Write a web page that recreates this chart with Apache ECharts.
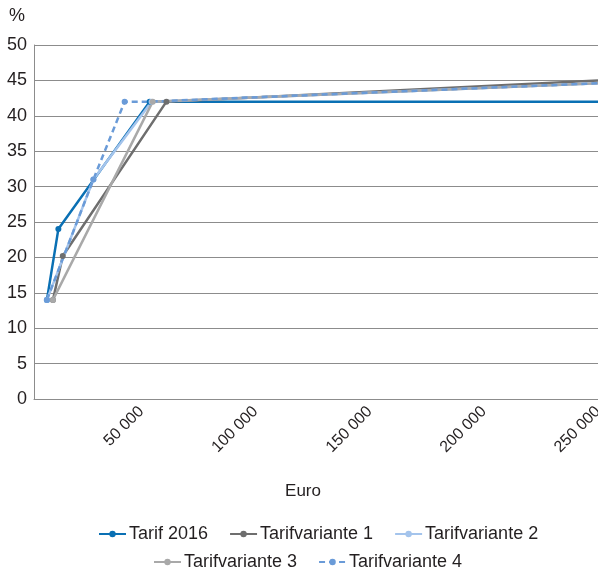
<!DOCTYPE html>
<html>
<head>
<meta charset="utf-8">
<script src="https://cdn.jsdelivr.net/npm/echarts@6/dist/echarts.min.js"></script>
<style>
  html, body { margin: 0; padding: 0; background: #fff; }
  #main { width: 598px; height: 570px; }
</style>
</head>
<body>
<div id="main"></div>
<script>
// Grenzsteuersatz (%) je zu versteuerndem Einkommen (Euro)
var seriesNames = ['Tarif 2016', 'Tarifvariante 1', 'Tarifvariante 2', 'Tarifvariante 3', 'Tarifvariante 4'];
var tarif2016 = [[8652, 14], [13669, 24], [53665, 42], [250000, 42]];
var variante1 = [[11300, 14], [15600, 20.2], [61000, 42], [250000, 45]];
var variante2 = [[8652, 14], [29000, 31], [54500, 42], [250000, 44.6]];
var variante3 = [[11300, 14], [55000, 42], [250000, 44.6]];
var variante4 = [[8652, 14], [29000, 31], [42700, 42], [53665, 42], [250000, 44.6]];
var xTicks = [50000, 100000, 150000, 200000, 250000];

var colors = ['#0a70b4', '#6e6e6e', '#a4c4ec', '#a9a9a9', '#6a9bd8'];
var font = 'Liberation Sans';
var textColor = '#231f20';

function makeSeries(name, data, color, dashed, noMarker) {
    // kein Marker am rechten Rand bzw. an reinen Stützpunkten
    var pts = data.map(function (p, i) {
        if (i === data.length - 1 || (noMarker && noMarker.indexOf(i) >= 0)) {
            return { value: p, symbol: 'none' };
        }
        return p;
    });
    return {
        name: name,
        type: 'line',
        data: pts,
        symbol: 'circle',
        symbolSize: 6,
        lineStyle: { color: color, width: 2.5, type: dashed ? [6, 4] : 'solid' },
        itemStyle: { color: color },
        emphasis: { disabled: true }
    };
}

var legendBase = {
    itemWidth: 27,
    itemHeight: 8,
    itemGap: 21,
    textStyle: { fontSize: 18, color: textColor, fontFamily: font, padding: [0, 0, 0, -2] }
};

var myChart = echarts.init(document.getElementById('main'));
myChart.setOption({
    animation: false,
    textStyle: { fontFamily: font },
    grid: { left: 34, right: 0, top: 45, bottom: 171, outerBoundsMode: 'none' },
    legend: [
        Object.assign({ data: seriesNames.slice(0, 3), left: 93, top: 520 }, legendBase),
        Object.assign({ data: seriesNames.slice(3), left: 148, top: 548 }, legendBase)
    ],
    xAxis: {
        type: 'value',
        min: 3000,
        max: 250000,
        name: 'Euro',
        nameLocation: 'middle',
        nameGap: 84,
        nameTextStyle: { fontSize: 17, color: textColor, padding: [0, 26, 0, 0] },
        axisLine: { show: true, lineStyle: { color: '#8c8c8c', width: 1 } },
        axisTick: { show: false },
        splitLine: { show: false },
        axisLabel: {
            customValues: xTicks,
            rotate: 45,
            margin: 10,
            fontSize: 16,
            color: textColor,
            formatter: function (v) {
                return String(v).replace(/\B(?=(\d{3})+(?!\d))/g, ' ');
            }
        }
    },
    yAxis: {
        type: 'value',
        min: 0,
        max: 50,
        interval: 5,
        name: '%',
        nameGap: 20,
        nameTextStyle: { fontSize: 18, color: textColor, align: 'right', padding: [0, 9, 0, 0] },
        axisLine: { show: true, lineStyle: { color: '#8c8c8c', width: 1 } },
        axisTick: { show: false },
        splitLine: { lineStyle: { color: '#8c8c8c', width: 1 } },
        axisLabel: { fontSize: 18, color: textColor, margin: 7 }
    },
    series: [
        makeSeries(seriesNames[0], tarif2016, colors[0], false),
        makeSeries(seriesNames[1], variante1, colors[1], false),
        makeSeries(seriesNames[2], variante2, colors[2], false),
        makeSeries(seriesNames[3], variante3, colors[3], false),
        makeSeries(seriesNames[4], variante4, colors[4], true, [3])
    ]
});
</script>
</body>
</html>
